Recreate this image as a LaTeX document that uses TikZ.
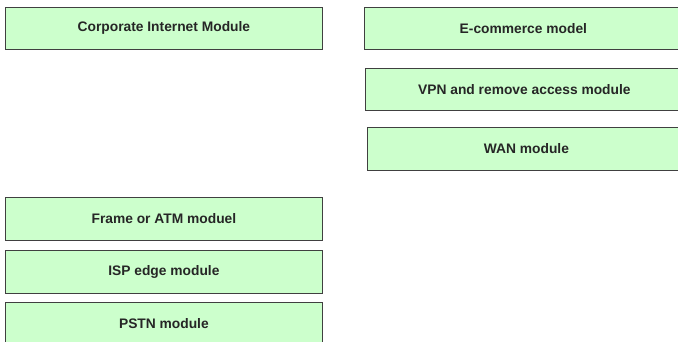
\documentclass[tikz,border=0pt]{standalone}
\usepackage{fontspec}
\setmainfont{Liberation Sans}
\usepackage{xcolor}
\usetikzlibrary{positioning}

\definecolor{modgreen}{RGB}{204,255,204}

\begin{document}
\begin{tikzpicture}[
    x=1pt, y=-1pt,
    font=\fontsize{13.8}{16}\selectfont\bfseries,
    thin
]
    % Styles for blocks
    \tikzstyle{module} = [draw=black!75, line width=0.8pt, rectangle, fill=modgreen, text=black!85, anchor=north west, minimum height=42pt, align=center, inner sep=0pt]
    \tikzstyle{leftmod} = [module, minimum width=317pt]
    \tikzstyle{rightmod} = [module, minimum width=318pt]

    % Page frame (boxes on the right and bottom run past it)
    \path [use as bounding box] (0,0) rectangle (678,341);
    \clip (0,0) rectangle (678,341);

    % Left column
    \node [leftmod] (Corp) at (5, 7) {Corporate Internet Module};
    \node [leftmod, minimum height=43pt] (Frame) at (5, 197) {Frame or ATM moduel};
    \node [leftmod, minimum height=43pt] (ISP) at (5, 250) {ISP edge module};
    \node [leftmod, minimum height=43pt] (PSTN) at (5, 302) {PSTN module};

    % Right column (right edges run past the frame)
    \node [rightmod, minimum width=330pt] (Ecom) at (364, 7) {\hspace*{-12pt}E-commerce model};
    \node [rightmod, minimum width=330pt] (VPN) at (365, 68) {\hspace*{-12pt}VPN and remove access module};
    \node [rightmod, minimum width=330pt, minimum height=43pt] (WAN) at (367, 127) {\hspace*{-12pt}WAN module};

\end{tikzpicture}
\end{document}
